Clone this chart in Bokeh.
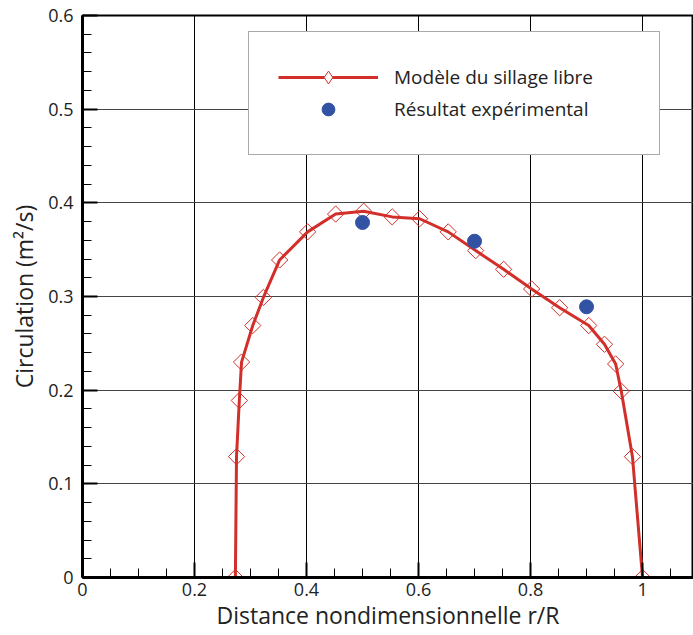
import numpy as np
from bokeh.plotting import figure
from bokeh.models import FixedTicker, Range1d, Legend, LegendItem, ColumnDataSource
from bokeh.embed import file_html
from bokeh.resources import INLINE

# Free-wake model (line + diamonds)
model_r = [0.273, 0.275, 0.280, 0.284, 0.304, 0.323, 0.352, 0.402, 0.452, 0.502,
           0.553, 0.602, 0.653, 0.702, 0.752, 0.802, 0.852, 0.904, 0.932, 0.952,
           0.962, 0.982, 1.0]
model_g = [0.0, 0.129, 0.189, 0.230, 0.269, 0.299, 0.339, 0.369, 0.388, 0.391,
           0.385, 0.383, 0.369, 0.349, 0.329, 0.308, 0.288, 0.269, 0.249, 0.228,
           0.199, 0.129, 0.0]

# Experimental results
exp_r = [0.5, 0.7, 0.9]
exp_g = [0.379, 0.359, 0.289]

x_ticks = [0, 0.2, 0.4, 0.6, 0.8, 1.0]
x_labels = ["0", "0.2", "0.4", "0.6", "0.8", "1"]
x_minor = [round(0.05 * i, 2) for i in range(0, 23)]
y_ticks = [0, 0.1, 0.2, 0.3, 0.4, 0.5, 0.6]
y_labels = ["0", "0.1", "0.2", "0.3", "0.4", "0.5", "0.6"]
y_minor = [round(0.02 * i, 2) for i in range(0, 31)]

RED = "#d22f2a"
BLUE = "#3253a4"
FONT = "Open Sans"

p = figure(width=693, height=635, output_backend="svg", toolbar_location=None,
           x_range=Range1d(0, 1.091), y_range=Range1d(0, 0.6),
           min_border_left=82, min_border_top=15, min_border_bottom=58, min_border_right=0)

p.outline_line_color = "black"
p.outline_line_width = 2

line_r = p.line(model_r, model_g, line_color=RED, line_width=3)
scat_r = p.scatter(model_r, model_g, marker="square", angle=np.pi / 4, size=11.5,
                   fill_color=None, line_color=RED, line_width=1)
# legend-only key glyph (NaN position: draws nothing on the plot itself)
key_r = p.scatter(x="x", y="y", source=ColumnDataSource(data=dict(x=[np.nan], y=[np.nan])),
                  marker="diamond", size=14, fill_color="white", line_color=RED, line_width=1)
dots = p.scatter(exp_r, exp_g, marker="circle", size=14, fill_color=BLUE, line_color=BLUE)

for ax, ticks, labels, minor in ((p.xaxis[0], x_ticks, x_labels, x_minor),
                                 (p.yaxis[0], y_ticks, y_labels, y_minor)):
    ax.ticker = FixedTicker(ticks=ticks, minor_ticks=minor)
    ax.major_label_overrides = {t: l for t, l in zip(ticks, labels)}
    ax.axis_line_width = 3
    ax.axis_line_color = "black"
    ax.major_tick_in = 15
    ax.major_tick_out = 0
    ax.minor_tick_in = 9
    ax.minor_tick_out = 0
    ax.major_tick_line_width = 2
    ax.minor_tick_line_width = 1
    ax.major_label_text_font = FONT
    ax.major_label_text_font_size = "18px"
    ax.major_label_text_color = "#222"
    ax.axis_label_text_font = FONT
    ax.axis_label_text_font_size = "23px"
    ax.axis_label_text_font_style = "normal"
    ax.axis_label_text_color = "#222"

p.xaxis.axis_label = "Distance nondimensionnelle r/R"
p.yaxis.axis_label = "Circulation (m²/s)"
p.xaxis.major_label_standoff = 5
p.xaxis.axis_label_standoff = 0
p.yaxis.major_label_standoff = 9
p.yaxis.axis_label_standoff = 5

p.xgrid.grid_line_color = "black"
p.xgrid.grid_line_width = 1
p.ygrid.grid_line_color = "#444"
p.ygrid.grid_line_width = 1.2

legend = Legend(items=[LegendItem(label="Modèle du sillage libre", renderers=[line_r, key_r]),
                       LegendItem(label="Résultat expérimental", renderers=[dots])],
                location=(166, 422), orientation="vertical")
legend.glyph_width = 100
legend.glyph_height = 32
legend.label_height = 32
legend.label_width = 236
legend.label_standoff = 16
legend.padding = 29
legend.spacing = 0
legend.margin = 0
legend.border_line_color = "#555"
legend.border_line_width = 1.5
legend.background_fill_alpha = 1
legend.label_text_font = FONT
legend.label_text_font_size = "19px"
legend.label_text_color = "#222"
p.add_layout(legend, "center")

open("out.html", "w").write(file_html(p, INLINE))
